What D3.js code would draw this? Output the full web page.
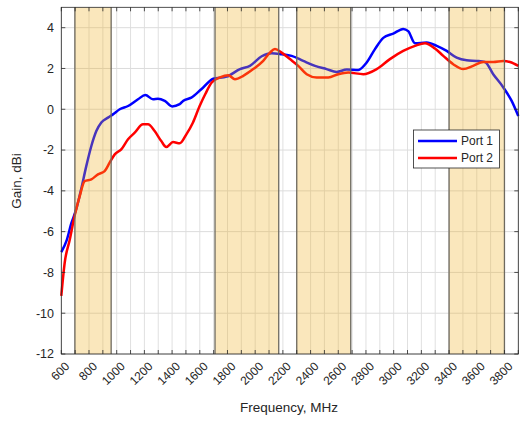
<!DOCTYPE html>
<html>
<head>
<meta charset="utf-8">
<script src="https://cdn.jsdelivr.net/npm/d3@7"></script>
<style>
  body { margin: 0; background: #fff; }
  text { font-family: "Liberation Sans", Arial, sans-serif; fill: #262626; }
</style>
</head>
<body>
<div id="graph"></div>
<script>
// frequency (MHz) and gain (dBi)
const port1Freq = [600, 640, 672, 708, 744, 780, 817, 853, 889, 937, 973, 1022, 1082, 1154, 1207, 1262, 1298, 1347, 1400, 1455, 1479, 1539, 1611, 1697, 1794, 1890, 1962, 2047, 2119, 2191, 2263, 2347, 2432, 2516, 2588, 2661, 2745, 2805, 2865, 2925, 2997, 3069, 3105, 3154, 3238, 3311, 3383, 3455, 3527, 3599, 3659, 3719, 3792, 3852, 3900];
const port1Gain = [-7.0, -6.4, -5.6, -4.9, -3.9, -2.8, -1.8, -1.07, -0.65, -0.41, -0.25, 0.0, 0.16, 0.49, 0.70, 0.49, 0.52, 0.41, 0.14, 0.25, 0.41, 0.57, 0.98, 1.5, 1.6, 1.97, 2.13, 2.6, 2.75, 2.7, 2.62, 2.37, 2.13, 1.97, 1.83, 1.95, 1.93, 2.29, 2.95, 3.5, 3.71, 3.94, 3.83, 3.24, 3.27, 3.11, 2.86, 2.53, 2.4, 2.37, 2.32, 1.72, 1.07, 0.41, -0.33];

const port2Freq = [600, 625, 661, 697, 733, 769, 817, 865, 913, 949, 986, 1033, 1082, 1130, 1190, 1226, 1274, 1322, 1358, 1407, 1455, 1503, 1551, 1599, 1640, 1686, 1746, 1806, 1854, 1914, 1986, 2058, 2107, 2143, 2191, 2251, 2311, 2372, 2444, 2528, 2600, 2672, 2781, 2877, 2973, 3069, 3154, 3226, 3298, 3358, 3430, 3502, 3574, 3647, 3719, 3792, 3840, 3900];
const port2Gain = [-9.15, -7.5, -6.4, -5.2, -4.26, -3.52, -3.44, -3.19, -3.03, -2.62, -2.21, -1.97, -1.47, -1.15, -0.74, -0.74, -1.07, -1.56, -1.85, -1.61, -1.67, -1.23, -0.65, 0.16, 0.75, 1.31, 1.56, 1.67, 1.47, 1.64, 1.97, 2.37, 2.78, 2.95, 2.78, 2.46, 2.13, 1.72, 1.56, 1.56, 1.72, 1.8, 1.72, 1.97, 2.46, 2.86, 3.11, 3.24, 2.98, 2.62, 2.21, 1.97, 2.13, 2.32, 2.32, 2.37, 2.32, 2.13];

// shaded bands (MHz)
const bandStart = [698, 1710, 2300, 3400];
const bandEnd = [960, 2170, 2690, 3800];

const xTicks = d3.range(600, 3801, 200);
const xMinor = d3.range(600, 3901, 100);
const yTicks = d3.range(-12, 5, 2);

const seriesNames = ['Port 1', 'Port 2'];
const seriesColors = ['#0000ff', '#ff0000'];

const W = 522, H = 421;
const plotL = 61.3, plotT = 7.3, plotR = 518.3, plotB = 354;

const svg = d3.select('#graph').append('svg')
    .attr('width', W)
    .attr('height', H);

const x = d3.scaleLinear().domain([600, 3900]).range([plotL, plotR]);
const y = d3.scaleLinear().domain([-12, 5]).range([plotB, plotT]);

// grid
svg.append('g').selectAll('line')
    .data(xMinor)
    .enter().append('line')
    .attr('x1', d => x(d)).attr('x2', d => x(d))
    .attr('y1', plotT).attr('y2', plotB)
    .attr('stroke', '#e0e0e0').attr('stroke-width', 1);

svg.append('g').selectAll('line')
    .data(yTicks)
    .enter().append('line')
    .attr('x1', plotL).attr('x2', plotR)
    .attr('y1', d => y(d)).attr('y2', d => y(d))
    .attr('stroke', '#dcdcdc').attr('stroke-width', 1);

// curves
const series = [
    port1Freq.map((f, i) => [f, port1Gain[i]]),
    port2Freq.map((f, i) => [f, port2Gain[i]])
];
const line = d3.line()
    .x(d => x(d[0]))
    .y(d => y(d[1]))
    .curve(d3.curveMonotoneX);

svg.append('g').selectAll('path')
    .data(series)
    .enter().append('path')
    .attr('d', line)
    .attr('fill', 'none')
    .attr('stroke', (d, i) => seriesColors[i])
    .attr('stroke-width', 2.5)
    .attr('stroke-linejoin', 'round');

// semi transparent bands drawn on top of the lines
const bands = svg.append('g');
bands.selectAll('rect')
    .data(bandStart)
    .enter().append('rect')
    .attr('x', d => x(d))
    .attr('y', plotT)
    .attr('width', (d, i) => x(bandEnd[i]) - x(d))
    .attr('height', plotB - plotT)
    .attr('fill', 'rgb(237,177,32)')
    .attr('fill-opacity', 0.3);
bands.selectAll('line')
    .data(bandStart.concat(bandEnd))
    .enter().append('line')
    .attr('x1', d => x(d)).attr('x2', d => x(d))
    .attr('y1', plotT).attr('y2', plotB)
    .attr('stroke', '#6e6a60')
    .attr('stroke-width', 1.3);

// axes box and inward ticks
const axisG = svg.append('g').attr('stroke', '#262626').attr('stroke-width', 0.8);
axisG.append('rect')
    .attr('x', plotL).attr('y', plotT)
    .attr('width', plotR - plotL).attr('height', plotB - plotT)
    .attr('fill', 'none');
axisG.selectAll('.xt')
    .data(xMinor)
    .enter().append('path')
    .attr('d', d => `M${x(d)},${plotB}v-4M${x(d)},${plotT}v4`);
axisG.selectAll('.yt')
    .data(yTicks)
    .enter().append('path')
    .attr('d', d => `M${plotL},${y(d)}h4M${plotR},${y(d)}h-4`);

// tick labels
svg.append('g').selectAll('text')
    .data(xTicks)
    .enter().append('text')
    .attr('transform', d => `translate(${x(d) + 6},364) rotate(-45)`)
    .attr('text-anchor', 'end')
    .attr('dy', '0.35em')
    .attr('font-size', 12)
    .text(d => d);

svg.append('g').selectAll('text')
    .data(yTicks)
    .enter().append('text')
    .attr('x', 54)
    .attr('y', d => y(d))
    .attr('text-anchor', 'end')
    .attr('dy', '0.35em')
    .attr('font-size', 12.5)
    .text(d => d);

// axis titles
svg.append('text')
    .attr('x', 289).attr('y', 412)
    .attr('text-anchor', 'middle')
    .attr('font-size', 13.5)
    .text('Frequency, MHz');

svg.append('text')
    .attr('transform', 'translate(21,181) rotate(-90)')
    .attr('text-anchor', 'middle')
    .attr('font-size', 13.5)
    .text('Gain, dBi');

// legend
const legend = svg.append('g');
legend.append('rect')
    .attr('x', 413.5).attr('y', 130)
    .attr('width', 86).attr('height', 38)
    .attr('fill', '#fff')
    .attr('stroke', '#262626')
    .attr('stroke-width', 0.8);
seriesNames.forEach((name, i) => {
    const ly = 141 + i * 17;
    legend.append('line')
        .attr('x1', 418).attr('x2', 457)
        .attr('y1', ly).attr('y2', ly)
        .attr('stroke', seriesColors[i])
        .attr('stroke-width', 2.5);
    legend.append('text')
        .attr('x', 461).attr('y', ly)
        .attr('dy', '0.35em')
        .attr('font-size', 12)
        .text(name);
});
</script>
</body>
</html>
